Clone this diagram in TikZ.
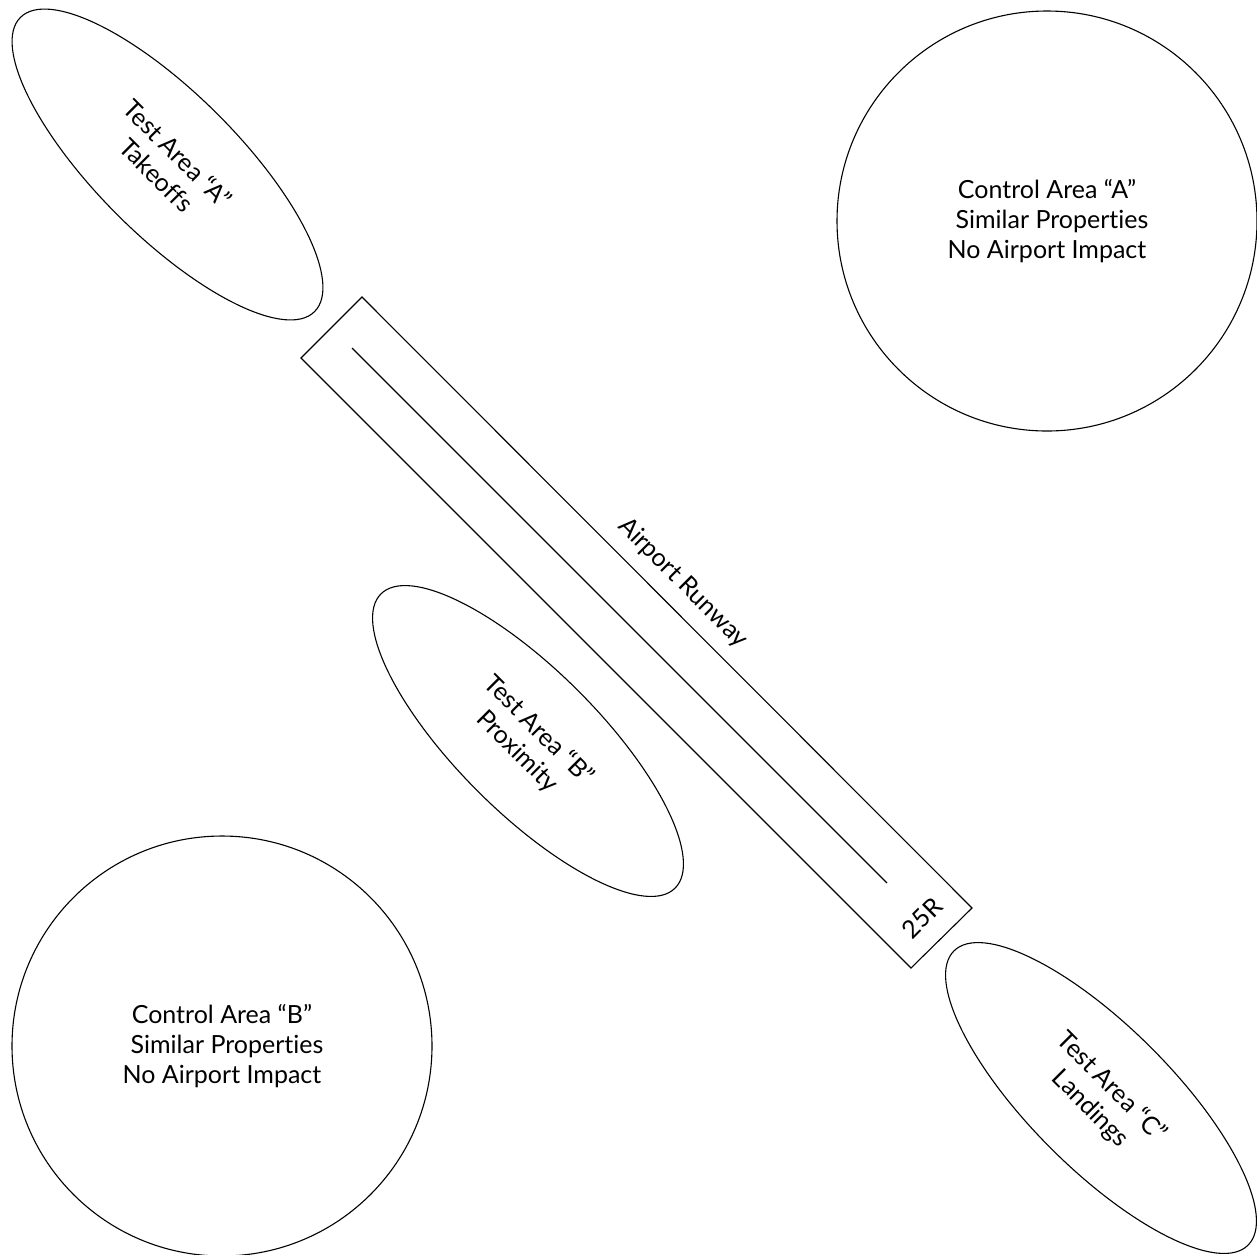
\documentclass[tikz,border=0pt]{standalone}
\usepackage{fontspec}
\setmainfont{Lato}[Ligatures=NoCommon]
\usetikzlibrary{shapes.geometric}
\begin{document}
\begin{tikzpicture}[x=1pt,y=1pt,
  outline/.style={draw=black, line width=1.1pt},
  lbl/.style={font=\fontsize{25}{30}\selectfont, align=center, inner sep=0pt},
  ctrlarea/.style={outline, circle, minimum size=420pt, inner sep=0pt, lbl},
  testarea/.style={outline, ellipse, minimum width=416pt, minimum height=142pt, inner sep=0pt, rotate=-45, lbl}]
\useasboundingbox (0,0) rectangle (1257,-1254);
% control areas
\node[ctrlarea] (ctrlA) at (1047,-221) {Control Area “A”\\\hspace*{10pt}Similar Properties\\No Airport Impact};
\node[ctrlarea] (ctrlB) at (222,-1046) {Control Area “B”\\\hspace*{10pt}Similar Properties\\No Airport Impact};
% test areas
\node[testarea] (testA) at (167.5,-164.5) {Test Area “A”\\Takeoffs};
\node[testarea] (testB) at (528,-741) {Test Area “B”\\Proximity};
\node[testarea] (testC) at (1101,-1098) {Test Area “C”\\Landings};
% runway
\coordinate (rwT) at (362,-297);
\coordinate (rwR) at (972,-908);
\coordinate (rwB) at (911,-968);
\coordinate (rwL) at (301,-358);
\coordinate (clS) at (352,-348);
\coordinate (clE) at (887,-883);
\draw[outline] (rwT) -- (rwR) -- (rwB) -- (rwL) -- cycle;
\draw[outline] (clS) -- (clE);
\node[lbl, rotate=-45] (rwlabel) at (683,-583) {Airport Runway};
\node[lbl, rotate=45] (rwnum) at (922,-918) {25R};
\end{tikzpicture}
\end{document}
